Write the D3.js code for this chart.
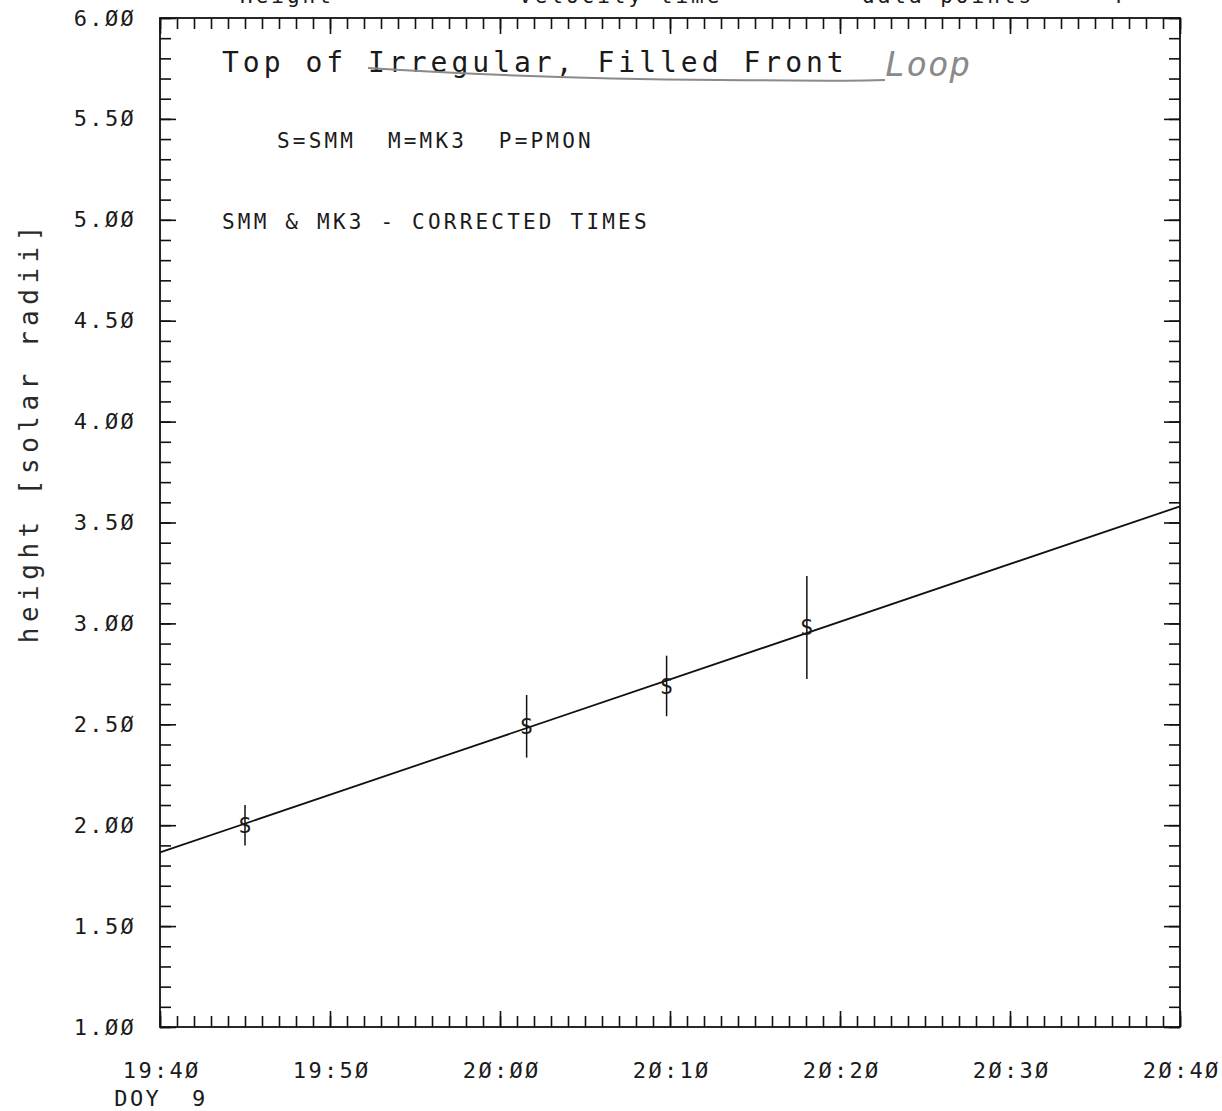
<!DOCTYPE html>
<html>
<head>
<meta charset="utf-8">
<script src="https://cdn.jsdelivr.net/npm/d3@7"></script>
<style>
	body { margin: 0; background: #fff; }
	svg { display: block; }
	text { font-family: "DejaVu Sans Mono", monospace; fill: #1a1a1a; }
	.tick line { stroke: #111; stroke-width: 1.6; }
	.domain { display: none; }
</style>
</head>
<body>
<svg id="chart" width="1222" height="1111"></svg>
<script>
/* global d3 */

// measurements, SMM coronagraph (S), times already corrected
const pointTimes = ['19:45:00', '20:01:34', '20:09:48', '20:18:03'];
const pointHeights = [2.00, 2.49, 2.69, 2.98];
const pointErrors = [0.10, 0.155, 0.15, 0.255];
const pointSources = ['S', 'S', 'S', 'S'];

// linear fit through the points
const fitTimes = ['19:40:00', '20:40:00'];
const fitHeights = [1.865, 3.58];

const timeDomain = ['19:40:00', '20:40:00'];
const heightDomain = [1, 6];
const yTickValues = [1.0, 1.5, 2.0, 2.5, 3.0, 3.5, 4.0, 4.5, 5.0, 5.5, 6.0];

const parse = d3.timeParse('%H:%M:%S');
const slashZero = s => s.replace(/0/g, 'Ø');

let width = 1222, height = 1111;
let margin = { top: 18, right: 42, bottom: 84, left: 160 };
let chartW = width - margin.left - margin.right;
let chartH = height - margin.top - margin.bottom;

let svg = d3.select('#chart');
let g = svg.append('g').attr('transform', `translate(${margin.left},${margin.top})`);

let x = d3.scaleTime()
	.domain(timeDomain.map(parse))
	.range([0, chartW]);

let y = d3.scaleLinear()
	.domain(heightDomain)
	.range([chartH, 0]);

let majorTimes = d3.timeMinute.every(10).range(x.domain()[0], +x.domain()[1] + 1);
let minorTimes = d3.timeMinute.every(1).range(x.domain()[0], +x.domain()[1] + 1);
let minorHeights = d3.range(10, 61).map(d => d / 10);

// frame
g.append('rect')
	.attr('width', chartW)
	.attr('height', chartH)
	.attr('fill', 'none')
	.attr('stroke', '#111')
	.attr('stroke-width', 1.8);

// minor ticks, all four sides, pointing in
g.append('g').attr('transform', `translate(0,${chartH})`)
	.call(d3.axisBottom(x).tickValues(minorTimes).tickSize(-11).tickFormat(''));
g.append('g')
	.call(d3.axisTop(x).tickValues(minorTimes).tickSize(-11).tickFormat(''));
g.append('g')
	.call(d3.axisLeft(y).tickValues(minorHeights).tickSize(-11).tickFormat(''));
g.append('g').attr('transform', `translate(${chartW},0)`)
	.call(d3.axisRight(y).tickValues(minorHeights).tickSize(-11).tickFormat(''));

// major ticks with labels
let xAxis = g.append('g').attr('transform', `translate(0,${chartH})`)
	.call(d3.axisBottom(x).tickValues(majorTimes).tickSize(-16).tickPadding(35)
		.tickFormat(d => slashZero(d3.timeFormat('%H:%M')(d))));
xAxis.selectAll('text')
	.attr('font-size', 22)
	.attr('font-family', null)
	.attr('dx', '1.2px')
	.style('letter-spacing', '2.3px');

g.append('g')
	.call(d3.axisTop(x).tickValues(majorTimes).tickSize(-16).tickFormat(''));

let yAxis = g.append('g')
	.call(d3.axisLeft(y).tickValues(yTickValues).tickSize(-16).tickPadding(24)
		.tickFormat(d => slashZero(d3.format('.2f')(d))));
yAxis.selectAll('text')
	.attr('font-size', 22)
	.attr('font-family', null)
	.style('letter-spacing', '2.3px');

g.append('g').attr('transform', `translate(${chartW},0)`)
	.call(d3.axisRight(y).tickValues(yTickValues).tickSize(-16).tickFormat(''));

// day of year under first time label
g.append('text')
	.attr('x', x(parse(timeDomain[0])) + 1)
	.attr('y', chartH + 79)
	.attr('text-anchor', 'middle')
	.attr('font-size', 22)
	.style('letter-spacing', '2.3px')
	.style('white-space', 'pre')
	.text('DOY  9');

// y axis title
svg.append('text')
	.attr('transform', `translate(38,${margin.top + chartH * 0.41}) rotate(-90)`)
	.attr('text-anchor', 'middle')
	.attr('font-size', 26)
	.style('letter-spacing', '5.5px')
	.style('fill', '#2a2a2a')
	.text('height [solar radii]');

// header line, mostly cut off by the page edge
svg.append('text')
	.attr('x', 240).attr('y', 3)
	.attr('font-size', 21)
	.style('letter-spacing', '3px')
	.text('Height');
svg.append('text')
	.attr('x', 519).attr('y', 3)
	.attr('font-size', 21)
	.style('letter-spacing', '3px')
	.text('velocity time');
svg.append('text')
	.attr('x', 862).attr('y', 3)
	.attr('font-size', 21)
	.style('letter-spacing', '3px')
	.text('data points');
svg.append('text')
	.attr('x', 1110).attr('y', 3)
	.attr('font-size', 21)
	.text('4');

// annotations inside the frame
g.append('text')
	.attr('x', 62).attr('y', 54)
	.attr('font-size', 28)
	.style('letter-spacing', '4px')
	.text('Top of Irregular, Filled Front');

// hand-drawn correction
g.append('path')
	.attr('d', 'M208,50 C300,56 420,61 560,62 S700,63 725,62')
	.attr('fill', 'none')
	.attr('stroke', '#8a8a8a')
	.attr('stroke-width', 2);
g.append('text')
	.attr('x', 725).attr('y', 58)
	.attr('font-size', 34)
	.attr('font-family', 'DejaVu Serif, serif')
	.attr('font-style', 'italic')
	.style('fill', '#8a8a8a')
	.style('letter-spacing', '1px')
	.text('Loop');

g.append('text')
	.attr('x', 117).attr('y', 130)
	.attr('font-size', 21)
	.style('letter-spacing', '3.2px')
	.style('white-space', 'pre')
	.text('S=SMM  M=MK3  P=PMON');

g.append('text')
	.attr('x', 62).attr('y', 211)
	.attr('font-size', 21)
	.style('letter-spacing', '3.2px')
	.text('SMM & MK3 - CORRECTED TIMES');

// fit line
let line = d3.line()
	.x(d => x(d.t))
	.y(d => y(d.h));

g.append('path')
	.datum(fitTimes.map((t, i) => ({ t: parse(t), h: fitHeights[i] })))
	.attr('d', line)
	.attr('fill', 'none')
	.attr('stroke', '#111')
	.attr('stroke-width', 1.8);

// points with error bars
let points = pointTimes.map((t, i) => ({
	t: parse(t),
	h: pointHeights[i],
	e: pointErrors[i],
	s: pointSources[i]
}));

let pt = g.selectAll('.pt')
	.data(points)
	.enter().append('g')
	.attr('class', 'pt');

pt.append('line')
	.attr('x1', d => x(d.t)).attr('x2', d => x(d.t))
	.attr('y1', d => y(d.h - d.e)).attr('y2', d => y(d.h + d.e))
	.attr('stroke', '#111')
	.attr('stroke-width', 1.5);

pt.append('text')
	.attr('x', d => x(d.t))
	.attr('y', d => y(d.h))
	.attr('dy', '0.36em')
	.attr('text-anchor', 'middle')
	.attr('font-size', 21)
	.text(d => d.s);
</script>
</body>
</html>
